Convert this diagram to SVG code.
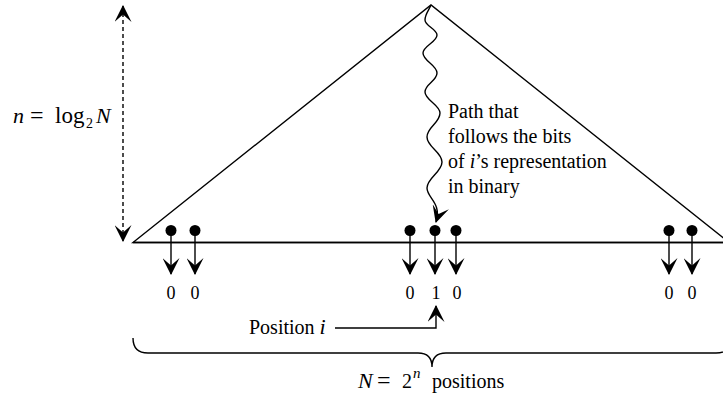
<svg xmlns="http://www.w3.org/2000/svg" width="723" height="398" viewBox="0 0 723 398">
<style>
.ln{fill:none;stroke:#000;stroke-width:1.4}
.t{font-family:'Liberation Serif','Times New Roman','DejaVu Serif',serif;font-size:20px;fill:#000}
.d{font-family:'Liberation Serif','Times New Roman','DejaVu Serif',serif;font-size:18px;fill:#000;text-anchor:middle}
.it{font-style:italic}
.dot{fill:#000}
</style>
<defs>
<marker id="ah" viewBox="0 0 16 16" refX="15" refY="8" markerWidth="17" markerHeight="17" markerUnits="userSpaceOnUse" orient="auto-start-reverse">
<path d="M0,0 L16,8 L0,16 L7,8 z" fill="#000"/>
</marker>
</defs>
<rect width="723" height="398" fill="#fff"/>
<g id="tree">
<path class="ln" d="M133,242.5 L431,5 L729,242.5 Z"/>
</g>
<g id="height-label">
<text class="t" y="123"><tspan class="it" x="13" font-size="22">n</tspan><tspan x="30" font-size="24">=</tspan><tspan x="55" font-size="23">log</tspan><tspan x="86" y="128" font-size="14">2</tspan><tspan class="it" x="96" y="123" font-size="22">N</tspan></text>
</g>
<g id="path-label">
<text class="t" x="448" y="118">Path that</text>
<text class="t" x="448" y="143">follows the bits</text>
<text class="t" x="448" y="168">of <tspan class="it">i</tspan>’s representation</text>
<text class="t" x="448" y="193">in binary</text>
</g>
<g id="leaf-0"><circle class="dot" cx="171" cy="230.5" r="5.5"/><text class="d" x="171" y="299">0</text></g>
<g id="leaf-1"><circle class="dot" cx="195" cy="230.5" r="5.5"/><text class="d" x="195" y="299">0</text></g>
<g id="leaf-2"><circle class="dot" cx="410" cy="230.5" r="5.5"/><text class="d" x="410" y="299">0</text></g>
<g id="leaf-i"><circle class="dot" cx="435" cy="230.5" r="5.5"/><text class="d" x="436" y="299">1</text></g>
<g id="leaf-3"><circle class="dot" cx="456" cy="230.5" r="5.5"/><text class="d" x="457" y="299">0</text></g>
<g id="leaf-4"><circle class="dot" cx="669" cy="230.5" r="5.5"/><text class="d" x="669" y="299">0</text></g>
<g id="leaf-5"><circle class="dot" cx="692" cy="230.5" r="5.5"/><text class="d" x="692" y="299">0</text></g>
<g id="position-label">
<text class="t" x="249" y="334">Position <tspan class="it" font-size="22">i</tspan></text>
</g>
<g id="brace">
<path class="ln" d="M133,338 Q133,353 148,353 L418,353 Q432,353 432,367 Q432,353 446,353 L716,353 Q731,353 731,338"/>
</g>
<g id="count-label">
<text class="t" y="388"><tspan class="it" x="358" font-size="22">N</tspan><tspan x="377" font-size="24">=</tspan><tspan x="402">2</tspan><tspan class="it" x="413" y="378" font-size="15">n</tspan><tspan x="432" y="388">positions</tspan></text>
</g>
<g id="connectors">
<line class="ln" x1="123" y1="6" x2="123" y2="241" stroke-dasharray="4,3" marker-start="url(#ah)" marker-end="url(#ah)"/>
<path class="ln" d="M431,5 C429,10 425,14 425,20 C425,26 437,29 437,35 C437,42 423,46 423,53 C423,61 437,65 437,73 C437,81 425,84 425,92 C425,100 440,105 440,113 C440,123 427,127 427,137 C427,147 442,152 442,162 C442,172 427,178 427,188 C427,198 442,203 436,222" marker-end="url(#ah)"/>
<line class="ln" x1="133" y1="242.5" x2="729" y2="242.5"/>
<line class="ln" x1="171" y1="230" x2="171" y2="274" marker-end="url(#ah)"/>
<line class="ln" x1="195" y1="230" x2="195" y2="274" marker-end="url(#ah)"/>
<line class="ln" x1="410" y1="230" x2="410" y2="274" marker-end="url(#ah)"/>
<line class="ln" x1="435" y1="230" x2="435" y2="274" marker-end="url(#ah)"/>
<line class="ln" x1="456" y1="230" x2="456" y2="274" marker-end="url(#ah)"/>
<line class="ln" x1="669" y1="230" x2="669" y2="274" marker-end="url(#ah)"/>
<line class="ln" x1="692" y1="230" x2="692" y2="274" marker-end="url(#ah)"/>
<path class="ln" d="M335,328 H436 V306" marker-end="url(#ah)"/>
</g>
</svg>
